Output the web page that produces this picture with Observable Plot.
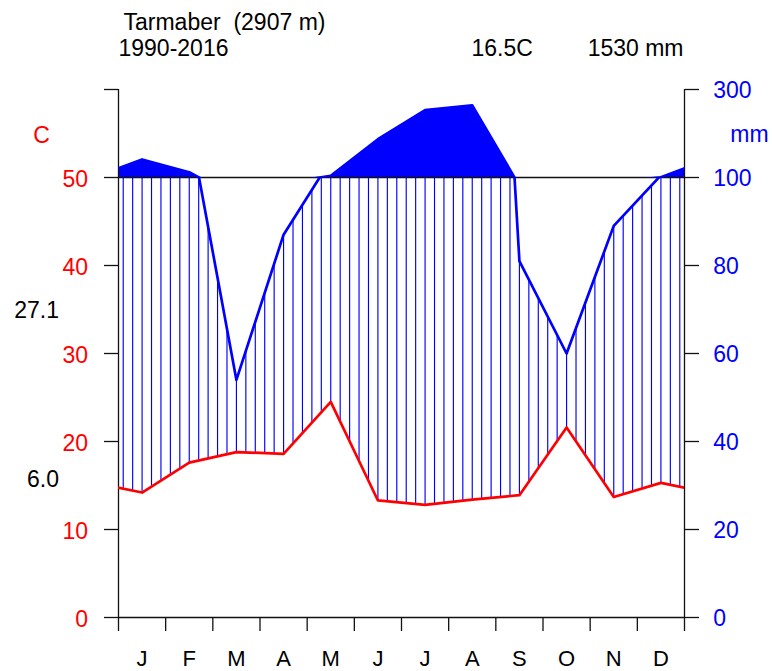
<!DOCTYPE html>
<html><head><meta charset="utf-8">
<script src="https://cdn.jsdelivr.net/npm/d3@7"></script>
<script src="https://cdn.jsdelivr.net/npm/@observablehq/plot@0.6"></script>
<style>
html,body{margin:0;padding:0;background:#fff;}
</style></head><body><div id="chart"></div>
<script>
const months = ["J","F","M","A","M","J","J","A","S","O","N","D"];
const tempC = [14.2, 17.6, 18.8, 18.6, 24.5, 13.3, 12.8, 13.4, 13.9, 21.6, 13.7, 15.3];
const precipMm = [141, 112, 54, 87, 104, 187, 253, 264, 81, 60, 89, 100.5];
const tempTicks = [0, 10, 20, 30, 40, 50, 60];
const precipTicks = [0, 20, 40, 60, 80, 100, 300];
const station = "Tarmaber  (2907 m)";
const period = "1990-2016";
const meanTempLabel = "16.5C";
const totalPrecipLabel = "1530 mm";
const sideLabels = ["27.1", "6.0"];
const sideLabelY = [34.9, 15.7];

const RED = "#ff0000", BLUE = "#0000ff", INK = "#111";
const FONT = "'Liberation Sans', Arial, sans-serif";
const n = months.length;
// precipitation expressed on the temperature axis (10 C = 20 mm, above 100 mm: 10 C = 200 mm)
const mmToT = p => p <= 100 ? p / 2 : 50 + (p - 100) / 20;
const lowT = p => p / 2;
const highT = p => 50 + (p - 100) / 20;
const T100 = mmToT(100);
const rightLabel = new Map(precipTicks.map(p => [mmToT(p), p]));

// Dec wrapped before Jan and Jan after Dec, clipped to the year, as in a Walter-Lieth diagram
const order = [n - 1, ...d3.range(n), 0];
const series = order.map((i, k) => ({m: k - 0.5, t: tempC[i], p: precipMm[i]}));
const hatchX = d3.range(n * 5).map(k => (k + 0.5) / 5);
const sideTable = sideLabels.map((s, i) => ({s, y: sideLabelY[i]}));

const chart = Plot.plot({
  width: 772, height: 671,
  marginLeft: 118, marginRight: 88, marginTop: 89, marginBottom: 54,
  x: {domain: [0, n], axis: null},
  y: {domain: [0, 60], axis: null},
  style: {fontFamily: FONT, fontSize: "23px", color: "black", background: "white", overflow: "visible"},
  marks: [
    // hatching of the humid period
    Plot.ruleX(hatchX, {x: d => d, y1: 0, y2: T100, stroke: BLUE, strokeWidth: 1.15}),
    Plot.areaY(series, {x: "m", y1: 0, y2: "t", fill: "white", clip: true}),
    Plot.areaY(series, {x: "m", y1: d => lowT(d.p), y2: T100, fill: "white", ariaDescription: "lowclip"}),
    // solid fill above 100 mm
    Plot.areaY(series, {x: "m", y1: T100, y2: d => highT(d.p), fill: BLUE, ariaDescription: "highclip"}),
    Plot.ruleY([0, T100], {stroke: INK, strokeWidth: 1.3}),
    Plot.ruleX([0, n], {y1: 0, y2: 60, stroke: INK, strokeWidth: 1.3}),
    // lines
    Plot.line(series, {x: "m", y: "t", stroke: RED, strokeWidth: 2.7, clip: true}),
    Plot.line(series, {x: "m", y: d => lowT(d.p), stroke: BLUE, strokeWidth: 2.7, ariaDescription: "lowclip"}),
    Plot.line(series, {x: "m", y: d => highT(d.p), stroke: BLUE, strokeWidth: 2.7, ariaDescription: "highclip"}),
    // axes
    Plot.axisX({ticks: d3.range(n + 1), tickSize: 14, tickFormat: () => "", label: null, stroke: INK, strokeWidth: 1.3}),
    Plot.axisX({ticks: d3.range(n).map(i => i + 0.5), tickSize: 0, tickPadding: 33, label: null, fontSize: 22, tickFormat: d => months[Math.floor(d)], fill: "black"}),
    Plot.axisY({ticks: tempTicks, tickSize: 14, tickFormat: () => "", label: null, stroke: INK, strokeWidth: 1.3}),
    Plot.axisY({ticks: tempTicks.filter(t => t <= 50), tickSize: 0, tickPadding: 30.5, label: null, tickFormat: d => String(d), color: RED, dy: 2.5}),
    Plot.axisY({anchor: "right", ticks: precipTicks.map(mmToT), tickSize: 14, tickFormat: () => "", label: null, stroke: INK, strokeWidth: 1.3}),
    Plot.axisY({anchor: "right", ticks: precipTicks.map(mmToT), tickSize: 0, tickPadding: 28.7, label: null, tickFormat: d => String(rightLabel.get(d)), color: BLUE, dy: 1.5}),
    // header and side texts
    Plot.text([station], {text: d => d, frameAnchor: "top-left", textAnchor: "start", lineAnchor: "bottom", dx: 5, dy: -60, fill: "black"}),
    Plot.text([period], {text: d => d, frameAnchor: "top-left", textAnchor: "start", lineAnchor: "bottom", dx: 0, dy: -34, fill: "black"}),
    Plot.text([meanTempLabel], {text: d => d, frameAnchor: "top-left", textAnchor: "start", lineAnchor: "bottom", dx: 353, dy: -34, fill: "black"}),
    Plot.text([totalPrecipLabel], {text: d => d, frameAnchor: "top-right", textAnchor: "end", lineAnchor: "bottom", dx: -1, dy: -34, fill: "black"}),
    Plot.text(["C"], {text: d => d, frameAnchor: "top-left", textAnchor: "middle", lineAnchor: "bottom", dx: -77, dy: 53, fill: RED}),
    Plot.text(["mm"], {text: d => d, frameAnchor: "top-right", textAnchor: "middle", lineAnchor: "bottom", dx: 65, dy: 52.7, fill: BLUE}),
    Plot.text(sideTable, {x: 0, y: "y", text: "s", textAnchor: "end", lineAnchor: "middle", dx: -59.5, fill: "black"})
  ]
});

const xs = chart.scale("x"), ys = chart.scale("y");
const svg = d3.select(chart);
const defs = svg.insert("defs", ":first-child");
const x0 = xs.apply(0), x1 = xs.apply(n);
const yTop = ys.apply(60), yMid = ys.apply(T100), yBot = ys.apply(0);
defs.append("clipPath").attr("id", "clip-low").append("rect")
  .attr("x", x0).attr("y", yMid).attr("width", x1 - x0).attr("height", yBot - yMid);
defs.append("clipPath").attr("id", "clip-high").append("rect")
  .attr("x", x0).attr("y", yTop).attr("width", x1 - x0).attr("height", yMid - yTop);
const low = svg.selectAll('[aria-description="lowclip"]');
const high = svg.selectAll('[aria-description="highclip"]');
if (low.empty() || high.empty()) throw new Error("clip groups not found");
low.attr("clip-path", "url(#clip-low)");
high.attr("clip-path", "url(#clip-high)");
document.getElementById("chart").appendChild(chart);
</script></body></html>
